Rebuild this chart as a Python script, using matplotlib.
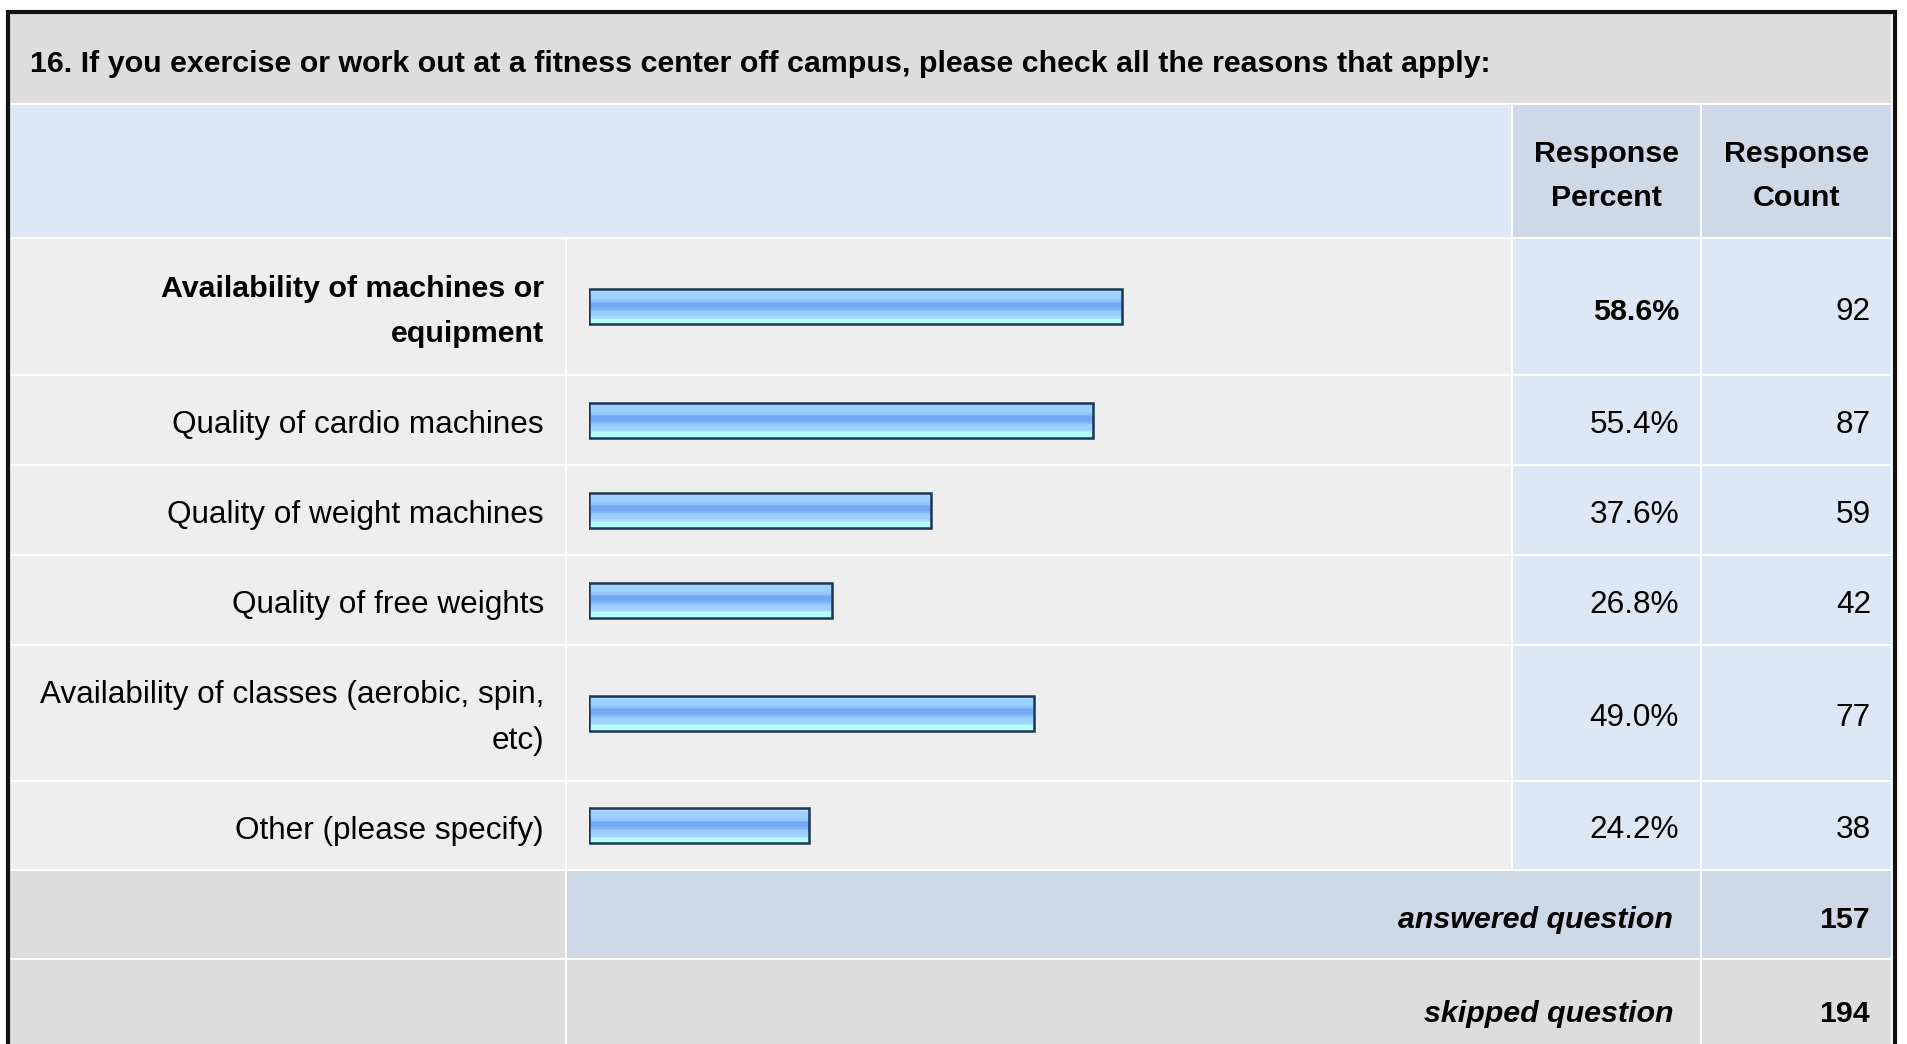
import matplotlib.pyplot as plt
from matplotlib.patches import Rectangle
from matplotlib.colors import to_rgb
import numpy as np

plt.rcParams['font.family'] = ['Liberation Sans', 'DejaVu Sans']

title = ("16. If you exercise or work out at a fitness center off campus, "
         "please check all the reasons that apply:")
choices = ["Availability of machines or\nequipment",
           "Quality of cardio machines",
           "Quality of weight machines",
           "Quality of free weights",
           "Availability of classes (aerobic, spin,\netc)",
           "Other (please specify)"]
percents = [58.6, 55.4, 37.6, 26.8, 49.0, 24.2]
counts = [92, 87, 59, 42, 77, 38]
answered = 157
skipped = 194

W, H = 1907, 1044
FS = 22.7      # regular text
FSB = 21.9     # bold text
DY = 5         # baseline nudge

# table grid in pixels
cols = [9, 566, 1512, 1701, 1892]
rows = [13, 104, 238, 375, 465, 555, 645, 781, 870, 959, 1060]

GRAY = '#dddddd'
LIGHT = '#eeeeee'
BLUE = '#dce8f5'
SLATE = '#cdd9e6'

fig = plt.figure(figsize=(W / 100, H / 100), dpi=100, facecolor='white')
ax = fig.add_axes([0, 0, 1, 1])
ax.set_xlim(0, W)
ax.set_ylim(H, 0)
ax.axis('off')


def cell(c0, c1, r0, r1, color):
    x0, x1 = cols[c0], cols[c1]
    y0, y1 = rows[r0], rows[r1]
    ax.add_patch(Rectangle((x0 + 1, y0 + 1), x1 - x0 - 2, y1 - y0 - 2,
                           facecolor=color, edgecolor='none', zorder=1))


def mid(r):
    return (rows[r] + rows[r + 1]) / 2 + DY


# title row
cell(0, 4, 0, 1, GRAY)
ax.text(30, mid(0), title, fontsize=FSB, fontweight='bold',
        ha='left', va='center', zorder=3)

# header row
cell(0, 2, 1, 2, BLUE)
cell(2, 3, 1, 2, SLATE)
cell(3, 4, 1, 2, SLATE)
for c, head in [(2, "Response\nPercent"), (3, "Response\nCount")]:
    ax.text((cols[c] + cols[c + 1]) / 2, mid(1), head, fontsize=FSB,
            fontweight='bold', ha='center', va='center',
            linespacing=1.75, zorder=3)

# answer rows
top = max(percents)
for i, (lab, p, n) in enumerate(zip(choices, percents, counts)):
    r = i + 2
    cell(0, 1, r, r + 1, LIGHT)
    cell(1, 2, r, r + 1, LIGHT)
    cell(2, 3, r, r + 1, BLUE)
    cell(3, 4, r, r + 1, BLUE)
    bold = p == top
    fs = FSB if bold else FS
    wt = 'bold' if bold else 'normal'
    y = mid(r)
    ax.text(544, y, lab, fontsize=fs, fontweight=wt, ha='right',
            va='center', linespacing=1.75 if bold else 1.69, zorder=3)
    ax.text(1679, y, f"{p:.1f}%", fontsize=fs, fontweight=wt,
            ha='right', va='center', zorder=3)
    ax.text(1871, y, str(n), fontsize=FS, ha='right', va='center', zorder=3)

# summary rows
ra = len(choices) + 2
cell(0, 1, ra, ra + 1, GRAY)
cell(1, 3, ra, ra + 1, SLATE)
cell(3, 4, ra, ra + 1, SLATE)
cell(0, 1, ra + 1, ra + 2, GRAY)
cell(1, 3, ra + 1, ra + 2, GRAY)
cell(3, 4, ra + 1, ra + 2, GRAY)
for r, txt, val in [(ra, "answered question", answered),
                    (ra + 1, "skipped question", skipped)]:
    ax.text(1673, mid(r), txt, fontsize=FSB, fontweight='bold',
            fontstyle='italic', ha='right', va='center', zorder=3)
    ax.text(1870, mid(r), str(val), fontsize=FSB, fontweight='bold',
            ha='right', va='center', zorder=3)

# outer frame
ax.plot([7.5, 7.5, 1894.5, 1894.5], [H + 5, 11.5, 11.5, H + 5],
        color='#111111', lw=3.0, solid_joinstyle='miter', zorder=4)

# bars: 0..100 % mapped onto the bar column
bx = fig.add_axes([588.5 / W, 0, 910 / W, 1])
bx.set_xlim(0, 100)
bx.set_ylim(H, 0)
bx.axis('off')
bx.patch.set_alpha(0)

shade = ['#c6e5ff', '#b0daff', '#a2d2ff', '#9dcfff', '#9dcfff', '#9dcfff',
         '#9acbff', '#8fc3fc', '#7db2f5', '#73a9f2', '#73a9f2', '#73a9f2',
         '#7fb5f7', '#8cc1fb', '#97cbff', '#9dcfff', '#9dcfff', '#a3d6ff',
         '#aee8ff', '#b3fdff', '#b3ffff', '#b3ffff']
grad = np.array([to_rgb(c) for c in shade])[:, None, :]

centers = [(rows[i + 2] + rows[i + 3]) / 2 for i in range(len(choices))]
bh = 35
bars = bx.barh(centers, percents, height=bh, left=0, color='none',
               edgecolor='#1b3556', linewidth=1.8, zorder=3)
for b, yc, p in zip(bars, centers, percents):
    im = bx.imshow(grad, extent=(0, p, yc + bh / 2, yc - bh / 2),
                   aspect='auto', interpolation='nearest', zorder=2)
    im.set_clip_path(b)

fig.savefig('out.png', dpi=100, facecolor='white')
